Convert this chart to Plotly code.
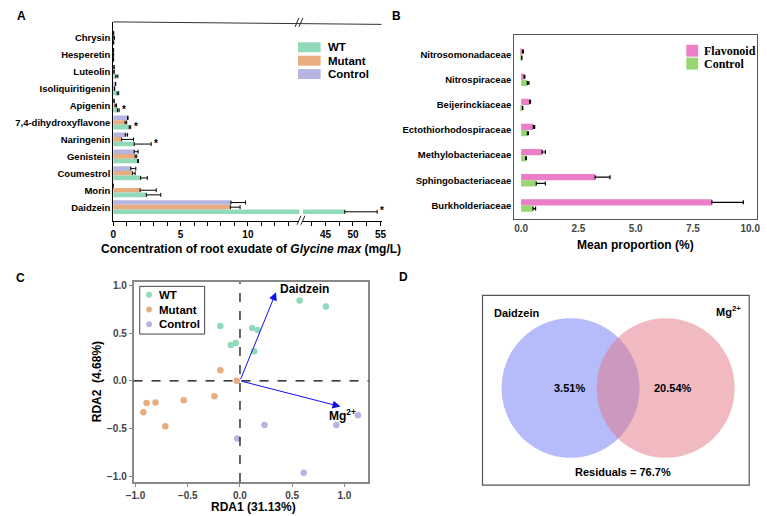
import plotly.graph_objects as go

W, H = 767, 516
def X(px): return px / W
def Y(py): return 1 - py / H

FONT = "Liberation Sans, Arial, sans-serif"
SERIF = "Liberation Serif, Times New Roman, serif"

# ---------------- Panel A data ----------------
cats_a = ["Chrysin", "Hesperetin", "Luteolin", "Isoliquiritigenin", "Apigenin",
          "7,4-dihydroxyflavone", "Naringenin", "Genistein", "Coumestrol", "Morin", "Daidzein"]
wt_mean = [0.02, 0.02, 0.20, 0.30, 0.32, 1.19, 1.56, 1.82, 2.04, 2.46, 48.5]
wt_sd = [0.02, 0.01, 0.15, 0.11, 0.12, 0.11, 1.26, 0.05, 0.49, 1.07, 5.9]
mut_mean = [0.04, 0.02, 0.05, 0.08, 0.15, 0.88, 0.63, 1.63, 1.44, 2.00, 8.70]
mut_sd = [0.05, 0.01, 0.02, 0.03, 0.10, 0.12, 0.88, 0.12, 0.19, 1.19, 0.72]
ctl_mean = [0.02, 0.02, 0.05, 0.17, 0.05, 1.07, 0.90, 1.56, 1.31, 0.0, 8.74]
ctl_sd = [0.02, 0.01, 0.02, 0.02, 0.02, 0.03, 0.17, 0.29, 0.37, 0.0, 1.09]
star_cats = ["Apigenin", "7,4-dihydroxyflavone", "Naringenin", "Daidzein"]
ticks_a1 = [0, 5, 10]
ticks_a2 = [45, 50, 55]

# ---------------- Panel B data ----------------
cats_b = ["Nitrosomonadaceae", "Nitrospiraceae", "Beijerinckiaceae", "Ectothiorhodospiraceae",
          "Methylobacteriaceae", "Sphingobacteriaceae", "Burkholderiaceae"]
flav_mean = [0.06, 0.13, 0.37, 0.53, 0.92, 3.23, 8.33]
flav_sd = [0.04, 0.03, 0.04, 0.06, 0.14, 0.65, 1.37]
bctl_mean = [0.02, 0.27, 0.06, 0.27, 0.20, 0.66, 0.52]
bctl_sd = [0.01, 0.07, 0.01, 0.05, 0.03, 0.40, 0.11]
ticks_b = [0, 2.5, 5, 7.5, 10]

# ---------------- Panel C data ----------------
wt_x = [-0.188, -0.088, -0.041, 0.116, 0.169, 0.135, 0.571, 0.822]
wt_y = [0.573, 0.375, 0.396, 0.552, 0.531, 0.309, 0.840, 0.778]
mu_x = [-0.188, -0.031, -0.245, -0.539, -0.809, -0.894, -0.925, -0.715]
mu_y = [0.111, 0.000, -0.163, -0.205, -0.226, -0.233, -0.330, -0.476]
co_x = [0.235, -0.025, 0.922, 1.129, 0.610]
co_y = [-0.462, -0.604, -0.462, -0.361, -0.963]
env_names = ["Daidzein", "Mg<sup>2+</sup>"]
env_x = [0.345, 0.962]
env_y = [0.927, -0.270]
ticks_c = [-1.0, -0.5, 0.0, 0.5, 1.0]

# ---------------- Panel D data ----------------
venn_sets = ["Daidzein", "Mg<sup>2+</sup>"]
venn_unique = ["3.51%", "20.54%"]
residual_text = "Residuals = 76.7%"

C_WT, C_MU, C_CO = "#90DAB9", "#E9AC80", "#B6B4E0"
C_FL, C_BC = "#EC7DC9", "#98D672"

fig = go.Figure()

# Panel A bars (two broken x segments)
groups_a = [("Control", ctl_mean, ctl_sd, C_CO), ("Mutant", mut_mean, mut_sd, C_MU), ("WT", wt_mean, wt_sd, C_WT)]
for xa in ("x", "x2"):
    for name, m, s, c in groups_a:
        fig.add_trace(go.Bar(
            y=cats_a, x=m, orientation="h", name=name, marker=dict(color=c, line=dict(width=0)),
            error_x=dict(type="data", array=s, arrayminus=[0] * len(s), symmetric=False,
                         color="black", thickness=1, width=2),
            xaxis=xa, yaxis="y", showlegend=False))

# Panel B bars
groups_b = [("Flavonoid", flav_mean, flav_sd, C_FL, -0.25), ("Control", bctl_mean, bctl_sd, C_BC, 0.0)]
for name, m, s, c, off in groups_b:
    fig.add_trace(go.Bar(
        y=cats_b, x=m, orientation="h", name=name, marker=dict(color=c, line=dict(width=0)),
        offset=off, width=0.25,
        error_x=dict(type="data", array=s, arrayminus=[0] * len(s), symmetric=False,
                     color="black", thickness=1.2, width=2),
        xaxis="x3", yaxis="y3", showlegend=False))

# Panel C points
groups_c = [("WT", wt_x, wt_y, C_WT), ("Mutant", mu_x, mu_y, C_MU), ("Control", co_x, co_y, C_CO)]
for name, xs, ys, c in groups_c:
    fig.add_trace(go.Scatter(x=xs, y=ys, mode="markers", name=name,
                             marker=dict(color=c, size=6.5, line=dict(width=0)),
                             xaxis="x4", yaxis="y4", showlegend=False))

bold = dict(family=FONT, weight="bold", color="black")
ann = []
shapes = []

def txt(px, py, t, size=11, xa="center", fam=FONT, **kw):
    ann.append(dict(x=X(px), y=Y(py), xref="paper", yref="paper", showarrow=False, text=t,
                    font=dict(family=fam, weight="bold", color="black", size=size),
                    xanchor=xa, yanchor="middle", **kw))

# stars in A
off_wt = 0.82 / 3
for cname in star_cats:
    i = cats_a.index(cname)
    end = wt_mean[i] + wt_sd[i]
    ann.append(dict(x=end + 0.08, y=i + off_wt - 0.05, xref="x2" if end > 14 else "x", yref="y",
                    text="*", showarrow=False, xanchor="left", yanchor="middle",
                    font=dict(bold, size=10)))

# A legend (manual)
for k, (name, _, _, c) in enumerate(groups_a[::-1]):
    yc = 44.5 + k * 13.5
    shapes.append(dict(type="rect", xref="paper", yref="paper", x0=X(295), x1=X(318),
                       y0=Y(yc + 5), y1=Y(yc - 5), fillcolor=c, line=dict(width=0)))
    txt(323, yc, name, size=11.5, xa="left")

# A axis title
txt(247, 247, "Concentration of root exudate of <i>Glycine max</i> (mg/L)", size=12)
# A top border + break marks
shapes.append(dict(type="line", xref="paper", yref="paper", x0=X(107), x1=X(380), y0=Y(19), y1=Y(21.5),
                   line=dict(color="#333", width=1)))
for bx, by in ((294, 214), (298, 214), (292, 15), (296, 15)):
    shapes.append(dict(type="line", xref="paper", yref="paper", x0=X(bx), x1=X(bx + 4), y0=Y(by + 9), y1=Y(by),
                       line=dict(color="#222", width=1)))

# B legend (manual)
for k, (name, _, _, c, _) in enumerate(groups_b):
    yc = 48 + k * 13
    shapes.append(dict(type="rect", xref="paper", yref="paper", x0=X(690), x1=X(702),
                       y0=Y(yc + 6), y1=Y(yc - 6), fillcolor=c, line=dict(width=0)))
    txt(706, yc, name, size=12, xa="left", fam=SERIF)
# B axis title
txt(638, 243, "Mean proportion (%)", size=12)

# C dashed zero lines
shapes.append(dict(type="line", xref="x4", yref="y4 domain", x0=0, x1=0, y0=0, y1=1,
                   line=dict(color="black", width=1.2, dash="dash")))
shapes.append(dict(type="line", xref="x4 domain", yref="y4", x0=0, x1=1, y0=0, y1=0,
                   line=dict(color="black", width=1.2, dash="dash")))
# C arrows + labels
label_shift = [(28, 3), (2, -8)]
for nm, ex, ey, (dx, dy) in zip(env_names, env_x, env_y, label_shift):
    ann.append(dict(x=ex, y=ey, ax=0, ay=0, xref="x4", yref="y4", axref="x4", ayref="y4",
                    showarrow=True, arrowhead=2, arrowsize=1.6, arrowwidth=1, arrowcolor="#1010F0", text=""))
    ann.append(dict(x=ex, y=ey, xref="x4", yref="y4", text=nm, showarrow=False,
                    xshift=dx, yshift=dy, font=dict(bold, size=12), xanchor="center", yanchor="middle"))
txt(250, 507, "RDA1 (31.13%)", size=12)
txt(90, 381, "RDA2  (4.68%)", size=12, textangle=-90)
# C legend (manual)
shapes.append(dict(type="rect", xref="paper", yref="paper", x0=X(134), x1=X(200), y0=Y(333), y1=Y(285),
                   fillcolor="white", line=dict(color="#444", width=1), layer="above"))
for k, (name, _, _, c) in enumerate(groups_c):
    yc = 293.5 + k * 14.8
    shapes.append(dict(type="circle", xref="paper", yref="paper", x0=X(140.5), x1=X(146.5),
                       y0=Y(yc + 3), y1=Y(yc - 3), fillcolor=c, line=dict(width=0)))
    txt(152, yc, name, size=11.5, xa="left")

# Panel D Venn
shapes.append(dict(type="rect", xref="paper", yref="paper", x0=X(482.7), x1=X(754), y0=Y(485), y1=Y(294),
                   line=dict(color="#555", width=1.2)))
venn_cx = [572.3, 669.0]
venn_r = 70.2
venn_fill = ["rgba(110,120,245,0.5)", "rgba(225,117,129,0.5)"]
for cx, fc in zip(venn_cx, venn_fill):
    shapes.append(dict(type="circle", xref="paper", yref="paper", x0=X(cx - venn_r), x1=X(cx + venn_r),
                       y0=Y(387.3 + venn_r), y1=Y(387.3 - venn_r), fillcolor=fc, line=dict(width=0)))
txt(492, 311.5, venn_sets[0], xa="left")
txt(748, 310, venn_sets[1], xa="right")
for cx, t in zip([570.7, 676.7], venn_unique):
    txt(cx, 387.5, t)
txt(625.7, 472, residual_text)

# panel letters
for t, px, py in (("A", 14, 13), ("B", 395, 13), ("C", 13, 277), ("D", 402, 276)):
    txt(px, py, t, size=12)

tickf = dict(family=FONT, weight="bold", size=10, color="black")
grayf = dict(family=FONT, weight="bold", size=10, color="#444")

fig.update_layout(
    width=W, height=H, margin=dict(l=0, r=0, t=0, b=0),
    paper_bgcolor="white", plot_bgcolor="white",
    barmode="group", bargap=0.18, bargroupgap=0, showlegend=False,
    font=dict(family=FONT, color="black"),
    shapes=shapes, annotations=ann,
    xaxis=dict(domain=[X(107), X(296.5)], range=[0, 13.83], anchor="y", showline=True, linecolor="black",
               linewidth=1, ticks="outside", ticklen=4, tickcolor="black", tickmode="array",
               tickvals=ticks_a1, tickfont=tickf, showgrid=False, zeroline=False,
               minor=dict(tick0=0, dtick=1, ticks="outside", ticklen=4, tickcolor="black", showgrid=False)),
    xaxis2=dict(domain=[X(300), X(380)], range=[40.9, 55.2], anchor="y", showline=True, linecolor="black",
                linewidth=1, ticks="outside", ticklen=4, tickcolor="black", tickmode="array",
                tickvals=ticks_a2, tickfont=tickf, showgrid=False, zeroline=False,
                minor=dict(tick0=0, dtick=2.5, ticks="outside", ticklen=4, tickcolor="black", showgrid=False)),
    yaxis=dict(domain=[Y(219), Y(19)], type="category", categoryorder="array", categoryarray=cats_a,
               range=[10.8, -0.94], anchor="x", showline=True, linecolor="black", linewidth=1,
               ticks="", tickfont=dict(tickf, size=9.5), showgrid=False, zeroline=False),
    xaxis3=dict(domain=[X(515), X(762)], range=[-0.3, 10.3], anchor="y3", showline=True, mirror=True,
                linecolor="#555", linewidth=1.3, ticks="", tickmode="array", tickvals=ticks_b,
                ticktext=[f"{v:.1f}" for v in ticks_b], tickfont=grayf, showgrid=False, zeroline=False),
    yaxis3=dict(domain=[Y(217), Y(32)], type="category", categoryorder="array", categoryarray=cats_b,
                range=[6.53, -0.79], anchor="x3", showline=True, mirror=True, linecolor="#555", linewidth=1.3,
                ticks="", tickfont=dict(tickf, size=9.5), showgrid=False, zeroline=False),
    xaxis4=dict(domain=[X(127.7), X(366.7)], range=[-1.019, 1.23], anchor="y4", showline=True, mirror=True,
                linecolor="#888", linewidth=1.5, ticks="outside", ticklen=3, tickcolor="#888",
                tickvals=ticks_c, ticktext=[f"{v:.1f}".replace("-", "\u2212") for v in ticks_c],
                tickfont=grayf, showgrid=False, zeroline=False),
    yaxis4=dict(domain=[Y(481.7), Y(281)], range=[-1.059, 1.031], anchor="x4", showline=True, mirror=True,
                linecolor="#888", linewidth=1.5, ticks="outside", ticklen=3, tickcolor="#888",
                tickvals=ticks_c, ticktext=[f"{v:.1f}".replace("-", "\u2212") for v in ticks_c],
                tickfont=grayf, showgrid=False, zeroline=False),
)

fig.write_html("out.html", config={"displayModeBar": False},
               post_script="document.body.style.margin='0';document.body.style.padding='0';"
                           "document.documentElement.style.overflow='hidden';")
